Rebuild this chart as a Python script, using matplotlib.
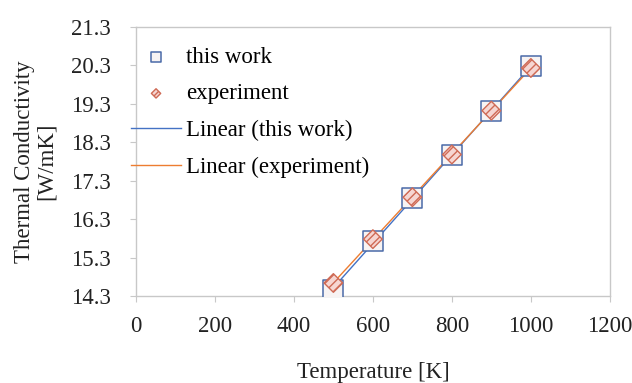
import matplotlib.pyplot as plt
import numpy as np

temperature = [500, 600, 700, 800, 900, 1000]
this_work = [14.46, 15.72, 16.85, 17.97, 19.10, 20.27]
experiment = [14.64, 15.78, 16.87, 17.98, 19.12, 20.23]

x_ticks = [0, 200, 400, 600, 800, 1000, 1200]
y_ticks = [14.3, 15.3, 16.3, 17.3, 18.3, 19.3, 20.3, 21.3]

blue = "#4a6aa8"
red = "#cf6a55"
frame_grey = "#c8c8c8"

plt.rcParams["font.family"] = ["Liberation Serif", "DejaVu Serif"]

fig = plt.figure(figsize=(6.32, 3.83), dpi=100)
ax = fig.add_axes([0.215, 0.227, 0.75, 0.703])

ax.scatter(temperature, this_work, marker="s", s=210, facecolor="#f7f3f3",
           edgecolor=blue, linewidth=1.1, zorder=3, label="this work")
ax.scatter(temperature, experiment, marker="D", s=90, facecolor="#f6d6d2",
           edgecolor=red, linewidth=1.0, hatch="////", zorder=4, label="experiment")

# linear trend lines
fit_a = np.polyfit(temperature, this_work, 1)
fit_b = np.polyfit(temperature, experiment, 1)
xs = np.array([temperature[0], temperature[-1]])
ax.plot(xs, np.polyval(fit_a, xs), color="#4472c4", lw=1.0, zorder=2,
        label="Linear (this work)")
ax.plot(xs, np.polyval(fit_b, xs), color="#ed7d31", lw=1.0, zorder=2,
        label="Linear (experiment)")

ax.set_xlim(0, 1200)
ax.set_ylim(14.3, 21.3)
ax.set_xticks(x_ticks)
ax.set_yticks(y_ticks)
ax.set_yticklabels([f"{v:.1f}" for v in y_ticks])

for spine in ax.spines.values():
    spine.set_color(frame_grey)
    spine.set_linewidth(1.0)
ax.tick_params(axis="both", colors=frame_grey, labelcolor="#222222",
               labelsize=16.5, length=4)
ax.tick_params(axis="y", pad=14)
ax.tick_params(axis="x", pad=10)

ax.set_xlabel("Temperature [K]", fontsize=16.5, color="#222222", labelpad=18)
ax.set_ylabel("Thermal Conductivity\n[W/mK]", fontsize=16.5, color="#222222",
              labelpad=10, linespacing=1.1)

leg = ax.legend(loc="upper left", bbox_to_anchor=(-0.03, 0.96), frameon=False,
                fontsize=16.5, handlelength=2.2, handletextpad=0.2,
                labelspacing=0.68, scatterpoints=1, markerscale=0.5,
                borderaxespad=0)

fig.savefig("out.png", dpi=100)
